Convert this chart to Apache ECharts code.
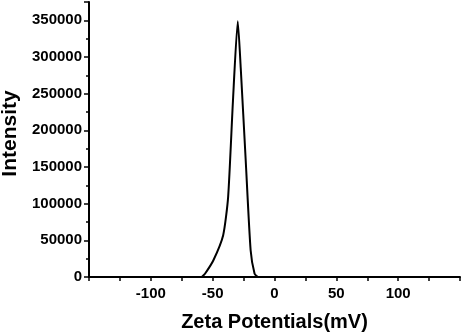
<!DOCTYPE html>
<html>
<head>
<meta charset="utf-8">
<script src="https://cdn.jsdelivr.net/npm/echarts@6/dist/echarts.min.js"></script>
<style>
html,body{margin:0;padding:0;background:#fff;}
#chart{width:463px;height:335px;}
</style>
</head>
<body>
<div id="chart"></div>
<script>
// Zeta potential (mV) and intensity
var zeta = [-58.8, -56.2, -49.5, -41.5, -37.5, -33.6, -29.7, -27.3, -23.3, -19.3, -16.1, -13.5];
var intensity = [0, 4500, 22500, 57000, 109000, 240000, 348600, 285000, 159500, 36500, 4500, 0];
var xTitle = 'Zeta Potentials(mV)';
var yTitle = 'Intensity';

var points = zeta.map(function (z, i) { return [z, intensity[i]]; });
var font = '"Liberation Sans", Arial, sans-serif';

var chart = echarts.init(document.getElementById('chart'));
chart.setOption({
  animation: false,
  backgroundColor: '#fff',
  grid: { left: 89, right: 3, top: 2, bottom: 58, containLabel: false, outerBoundsMode: 'none' },
  xAxis: {
    type: 'value', min: -150, max: 150, interval: 50,
    name: xTitle, nameLocation: 'middle', nameGap: 35,
    nameTextStyle: { fontFamily: font, fontWeight: 'bold', fontSize: 20, color: '#000' },
    axisLine: { show: true, onZero: false, lineStyle: { color: '#000', width: 2 } },
    axisTick: { show: true, inside: false, length: 4, lineStyle: { color: '#000', width: 1.5 } },
    minorTick: { show: true, splitNumber: 2, length: 4, lineStyle: { color: '#000', width: 1.5 } },
    axisLabel: { showMinLabel: false, showMaxLabel: false, margin: 9, fontFamily: font, fontWeight: 'bold', fontSize: 15, color: '#000',
      formatter: function (v) { return String(v); } },
    splitLine: { show: false }
  },
  yAxis: {
    type: 'value', min: 0, max: 375000, interval: 50000,
    name: yTitle, nameLocation: 'middle', nameGap: 64,
    nameTextStyle: { fontFamily: font, fontWeight: 'bold', fontSize: 21, color: '#000', padding: [0, 0, 0, 12] },
    axisLine: { show: true, onZero: false, lineStyle: { color: '#000', width: 2 } },
    axisTick: { show: true, inside: false, length: 5, lineStyle: { color: '#000', width: 1.5 } },
    minorTick: { show: true, splitNumber: 2, length: 3, lineStyle: { color: '#000', width: 1.5 } },
    axisLabel: { showMaxLabel: false, margin: 7, fontFamily: font, fontWeight: 'bold', fontSize: 15, color: '#000',
      formatter: function (v) { return String(v); } },
    splitLine: { show: false }
  },
  series: [{
    type: 'line',
    data: points,
    showSymbol: false,
    smooth: 0.2,
    lineStyle: { color: '#000', width: 2 },
    clip: false
  }]
});
</script>
</body>
</html>
